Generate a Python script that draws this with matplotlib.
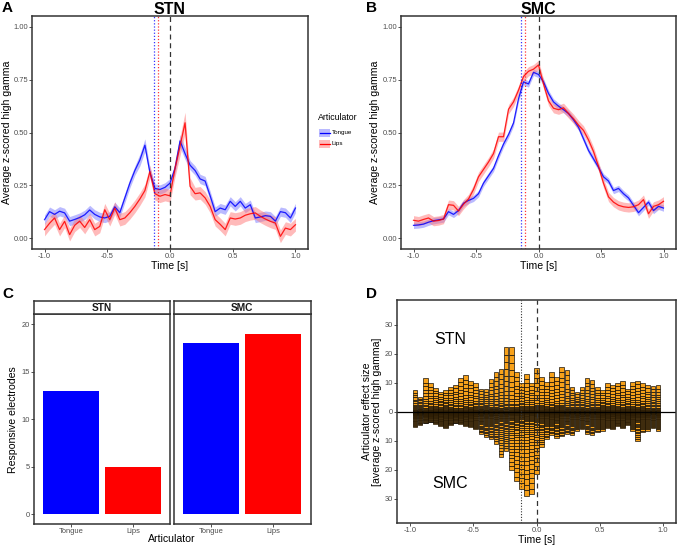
import numpy as np
import matplotlib
matplotlib.use("Agg")
import matplotlib.pyplot as plt
from matplotlib.patches import Rectangle
from matplotlib.lines import Line2D

plt.rcParams['font.family'] = ['Liberation Sans', 'DejaVu Sans']

# ---------------- data ----------------
time = np.round(np.arange(-1.0, 1.0001, 0.04), 2)

stn_tongue = [0.087, 0.125, 0.112, 0.127, 0.119, 0.080, 0.088, 0.097, 0.110, 0.133,
              0.112, 0.100, 0.095, 0.103, 0.148, 0.120, 0.190, 0.260, 0.320, 0.370,
              0.440, 0.310, 0.235, 0.230, 0.240, 0.260, 0.330, 0.460, 0.400, 0.345,
              0.320, 0.280, 0.270, 0.200, 0.125, 0.142, 0.134, 0.174, 0.150, 0.174,
              0.142, 0.158, 0.095, 0.100, 0.106, 0.103, 0.080, 0.125, 0.120, 0.095, 0.142]
stn_tongue_se = [0.022] * 19 + [0.028, 0.03, 0.025] + [0.022] * 5 + [0.03, 0.028] + [0.022] * 22
stn_lips = [0.040, 0.070, 0.095, 0.040, 0.079, 0.016, 0.060, 0.080, 0.050, 0.087,
            0.040, 0.055, 0.134, 0.087, 0.142, 0.087, 0.095, 0.120, 0.150, 0.185,
            0.225, 0.315, 0.210, 0.198, 0.206, 0.200, 0.330, 0.435, 0.546, 0.245,
            0.210, 0.214, 0.190, 0.150, 0.087, 0.065, 0.040, 0.095, 0.090, 0.095,
            0.108, 0.115, 0.119, 0.103, 0.090, 0.079, 0.071, 0.008, 0.047, 0.040, 0.063]
stn_lips_se = [0.03] * 26 + [0.04, 0.045, 0.05, 0.04] + [0.03] * 21

smc_tongue = [0.060, 0.062, 0.066, 0.075, 0.082, 0.086, 0.090, 0.125, 0.112, 0.130,
              0.165, 0.178, 0.188, 0.210, 0.260, 0.295, 0.330, 0.390, 0.445, 0.490,
              0.545, 0.660, 0.740, 0.730, 0.785, 0.775, 0.740, 0.685, 0.645, 0.625,
              0.608, 0.590, 0.560, 0.525, 0.470, 0.415, 0.375, 0.335, 0.290, 0.270,
              0.225, 0.235, 0.210, 0.190, 0.155, 0.120, 0.145, 0.170, 0.130, 0.150, 0.142]
smc_tongue_se = [0.015] * 51
smc_lips = [0.084, 0.080, 0.088, 0.095, 0.080, 0.083, 0.090, 0.158, 0.155, 0.128,
            0.160, 0.185, 0.230, 0.290, 0.325, 0.360, 0.400, 0.480, 0.480, 0.610,
            0.645, 0.700, 0.765, 0.790, 0.800, 0.820, 0.730, 0.650, 0.615, 0.608,
            0.617, 0.590, 0.565, 0.535, 0.510, 0.465, 0.410, 0.340, 0.260, 0.195,
            0.170, 0.155, 0.148, 0.145, 0.148, 0.158, 0.182, 0.115, 0.150, 0.158, 0.174]
smc_lips_se = [0.022] * 51

onset_stn = {'Tongue': -0.13, 'Lips': -0.096}
onset_smc = {'Tongue': -0.14, 'Lips': -0.105}

articulators = ['Tongue', 'Lips']
count_stn = [13, 5]
count_smc = [18, 19]

bin_time = np.round(np.arange(-0.96, 0.9601, 0.04), 2)
stn_effect = [7.6, 5.2, 11.5, 9.8, 8.3, 6.9, 7.5, 8.6, 9.2, 11.7,
              12.6, 10.6, 9.8, 8.0, 7.8, 11.3, 13.8, 14.9, 22.4, 22.2,
              13.8, 9.8, 13.0, 10.1, 15.2, 12.1, 10.3, 13.6, 12.1, 15.5,
              14.4, 8.6, 6.9, 8.6, 11.5, 10.9, 8.6, 7.5, 9.8, 9.4,
              10.1, 10.6, 8.0, 10.3, 10.8, 9.8, 9.2, 9.0, 9.1]
smc_effect = [5.2, 4.6, 4.0, 3.6, 4.2, 4.8, 5.5, 4.6, 4.0, 4.2,
              4.8, 5.2, 6.0, 7.5, 8.6, 9.5, 11.0, 15.5, 13.5, 20.0,
              24.0, 26.5, 29.0, 28.5, 21.5, 12.0, 9.5, 8.0, 9.0, 8.5,
              7.5, 8.0, 6.5, 6.0, 7.5, 8.0, 7.0, 6.5, 5.5, 6.0,
              5.0, 5.5, 4.5, 6.5, 10.0, 7.0, 6.5, 5.5, 6.5]
# relative share of each electrode in a stacked bar (stacked from zero outward)
stn_weights = [0.04, 0.05, 0.06, 0.07, 0.08, 0.1, 0.12, 0.15, 0.2, 0.25,
               0.3, 0.4, 0.5, 0.6, 0.7, 0.8, 0.9, 1.0, 1.1, 1.2, 1.3, 1.4]
smc_weights = [0.05, 0.06, 0.07, 0.08, 0.09, 0.1, 0.11, 0.12, 0.14, 0.16,
               0.18, 0.2, 0.22, 0.25, 0.28, 0.31, 0.34, 0.37, 0.4, 0.44,
               0.48, 0.52, 0.56, 0.6, 0.65, 0.7, 0.75, 0.8, 0.85, 0.9,
               0.95, 1.0, 1.05, 1.1, 1.15, 1.2, 1.25]
effect_onset = -0.12

# ---------------- figure ----------------
W, H = 688, 545
fig = plt.figure(figsize=(W / 100, H / 100), dpi=100)

def px_axes(l, t, r, b):
    return fig.add_axes([l / W, 1 - b / H, (r - l) / W, (b - t) / H])

def fx(x):
    return x / W

def fy(y):
    return 1 - y / H

BLUE = '#0000FF'
RED = '#FF0000'
TICKC = '#4D4D4D'
FRAME = '#333333'
LABFS = 7.6

def style_axes(ax):
    for s in ax.spines.values():
        s.set_color(FRAME)
        s.set_linewidth(1.1)
    ax.tick_params(axis='both', colors=FRAME, labelcolor=TICKC, labelsize=5.4,
                   length=2.0, width=0.6, pad=0.8)

def place_ylabel(ax, text, x_px, left_px, width_px, **kw):
    ax.set_ylabel(text, fontsize=LABFS, va='center', **kw)
    ax.yaxis.set_label_coords((x_px - left_px) / width_px, 0.5)

def line_panel(ax, tongue, tongue_se, lips, lips_se, onsets, lab_x, left, width):
    t = np.array(time)
    for vals, se, col, fill in [(tongue, tongue_se, BLUE, '#7777FF'),
                                (lips, lips_se, RED, '#FF7777')]:
        v = np.array(vals)
        s = np.array(se)
        ax.fill_between(t, v - s, v + s, color=fill, alpha=0.5, lw=0)
        ax.plot(t, v, color=col, lw=0.9, alpha=0.85)
    ax.axvline(onsets['Tongue'], color=BLUE, ls=(0, (1, 1.5)), lw=0.9, alpha=0.8)
    ax.axvline(onsets['Lips'], color=RED, ls=(0, (1, 1.5)), lw=0.9, alpha=0.8)
    ax.axvline(0, color='#333333', ls=(0, (4, 3)), lw=0.9)
    ax.set_xlim(-1.1, 1.1)
    ax.set_ylim(-0.052, 1.052)
    ax.set_xticks([-1.0, -0.5, 0.0, 0.5, 1.0])
    ax.set_xticklabels(['-1.0', '-0.5', '0.0', '0.5', '1.0'])
    ax.set_yticks([0, 0.25, 0.5, 0.75, 1.0])
    ax.set_yticklabels(['0.00', '0.25', '0.50', '0.75', '1.00'])
    ax.set_xlabel('Time [s]', fontsize=LABFS, labelpad=0.5)
    place_ylabel(ax, 'Average z-scored high gamma', lab_x, left, width)
    style_axes(ax)

# Panel A
axA = px_axes(32, 16, 308, 249)
line_panel(axA, stn_tongue, stn_tongue_se, stn_lips, stn_lips_se, onset_stn, 7.5, 32, 276)
fig.text(fx(170), fy(9), 'STN', ha='center', va='center', fontsize=11.5, fontweight='bold')
fig.text(fx(2), fy(8.5), 'A', ha='left', va='center', fontsize=11, fontweight='bold')

# legend for A (drawn manually)
fig.text(fx(318), fy(118), 'Articulator', ha='left', va='center', fontsize=6.3)
for i, (lab, col, fill) in enumerate([('Tongue', BLUE, '#7777FF'), ('Lips', RED, '#FF7777')]):
    yc = 132.5 + i * 11.5
    fig.patches.append(Rectangle((fx(319), fy(yc + 4)), 11 / W, 8 / H, transform=fig.transFigure,
                                 facecolor=fill, alpha=0.5, edgecolor='none'))
    fig.lines.append(Line2D([fx(319.5), fx(329.5)], [fy(yc), fy(yc)], transform=fig.transFigure,
                            color=col, lw=0.9))
    fig.text(fx(332), fy(yc), lab, ha='left', va='center', fontsize=4.5)

# Panel B
axB = px_axes(401, 16, 676, 249)
line_panel(axB, smc_tongue, smc_tongue_se, smc_lips, smc_lips_se, onset_smc, 375.5, 401, 275)
fig.text(fx(538), fy(9), 'SMC', ha='center', va='center', fontsize=11.5, fontweight='bold')
fig.text(fx(366), fy(8.5), 'B', ha='left', va='center', fontsize=11, fontweight='bold')

# Panel C (facets)
for (l, r, title, counts, show_y) in [(33.7, 170.3, 'STN', count_stn, True),
                                       (173.7, 310.7, 'SMC', count_smc, False)]:
    ax = px_axes(l, 314.3, r, 524)
    ax.bar([1, 2], counts, width=0.9, color=[BLUE, RED], edgecolor='none')
    ax.set_xlim(0.4, 2.6)
    ax.set_ylim(-1.05, 21.05)
    ax.set_xticks([1, 2])
    ax.set_xticklabels(articulators)
    ax.set_yticks([0, 5, 10, 15, 20])
    style_axes(ax)
    if not show_y:
        ax.set_yticklabels([])
        ax.tick_params(axis='y', length=0)
    else:
        place_ylabel(ax, 'Responsive electrodes', 13, l, r - l)
    sax = px_axes(l, 300.7, r, 314.3)
    sax.set_xticks([])
    sax.set_yticks([])
    for s in sax.spines.values():
        s.set_color(FRAME)
        s.set_linewidth(1.1)
    sax.text(0.5, 0.45, title, transform=sax.transAxes, ha='center', va='center',
             fontsize=7.3, fontweight='bold', color='#1A1A1A')
fig.text(fx(172), fy(538.5), 'Articulator', ha='center', va='center', fontsize=LABFS)
fig.text(fx(2), fy(294), 'C', ha='left', va='center', fontsize=11, fontweight='bold')

# Panel D
axD = px_axes(397, 300, 676, 523)
bt = np.array(bin_time)
for total, weights, sign in [(np.array(stn_effect), np.array(stn_weights), 1),
                             (np.array(smc_effect), np.array(smc_weights), -1)]:
    share = weights / weights.sum()
    cum = np.concatenate([[0], np.cumsum(share)[:-1]])
    for j in range(len(share)):
        axD.bar(bt, sign * total * share[j], bottom=sign * total * cum[j], width=0.037,
                color='#F7A11A', edgecolor='black', linewidth=0.45)
axD.axhline(0, color='black', lw=0.9)
axD.axvline(effect_onset, color='#333333', ls=(0, (1, 1.5)), lw=0.8)
axD.axvline(0, color='#333333', ls=(0, (4, 3)), lw=0.9)
axD.set_xlim(-1.103, 1.103)
axD.set_ylim(-38.4, 38.6)
axD.set_xticks([-1.0, -0.5, 0.0, 0.5, 1.0])
axD.set_xticklabels(['-1.0', '-0.5', '0.0', '0.5', '1.0'])
axD.set_yticks([-30, -20, -10, 0, 10, 20, 30])
axD.set_yticklabels(['30', '20', '10', '0', '10', '20', '30'])
axD.set_xlabel('Time [s]', fontsize=LABFS, labelpad=0.5)
place_ylabel(axD, 'Articulator effect size\n[average z-scored high gamma]', 372, 397, 279,
             linespacing=0.95)
axD.text(-0.68, 24.8, 'STN', ha='center', va='center', fontsize=11.5)
axD.text(-0.68, -24.8, 'SMC', ha='center', va='center', fontsize=11.5)
style_axes(axD)
fig.text(fx(366), fy(294), 'D', ha='left', va='center', fontsize=11, fontweight='bold')

fig.savefig('out.png', dpi=100)
